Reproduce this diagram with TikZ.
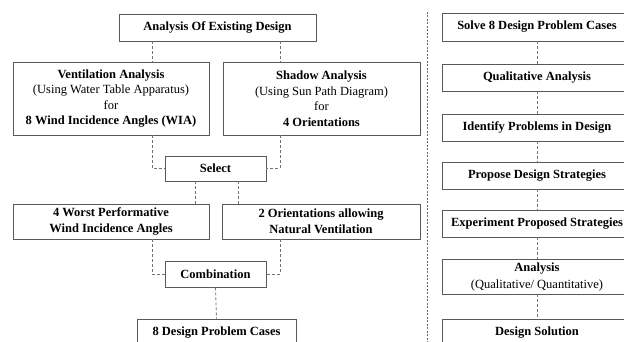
\documentclass[tikz,border=0pt]{standalone}
\usepackage{fontspec}
\setmainfont{Liberation Serif}
\begin{document}
\begin{tikzpicture}[x=1pt,y=-1pt,
  box/.style={draw=black!65, line width=0.9pt, inner sep=0pt, align=center, font=\fontsize{12.5}{15.5}\selectfont},
  conn/.style={draw=black!55, line width=0.8pt, dash pattern=on 3pt off 2pt},
  sep/.style={draw=black!60, line width=0.8pt, dash pattern=on 2pt off 1.5pt}]
\useasboundingbox (0,0) rectangle (624,342);
\clip (0,0) rectangle (624,342);
% left column
\node[box, minimum width=197pt, minimum height=27pt] (top) at (217.5,27.5) {\textbf{Analysis Of Existing Design}};
\node[box, minimum width=196pt, minimum height=73pt] (vent) at (111,98.5) {\textbf{Ventilation Analysis}\\(Using Water Table Apparatus)\\for\\\textbf{8 Wind Incidence Angles (WIA)}};
\node[box, minimum width=197pt, minimum height=73pt] (shad) at (321.5,98.5) {\textbf{Shadow Analysis}\\(Using Sun Path Diagram)\\for\\\textbf{4 Orientations}};
\node[box, minimum width=101pt, minimum height=25pt] (sel) at (215.5,168.5) {\textbf{Select}};
\node[box, minimum width=196pt, minimum height=35pt] (worst) at (111,221.5) {\textbf{4 Worst Performative}\\\textbf{Wind Incidence Angles}};
\node[box, minimum width=198pt, minimum height=35pt] (ori) at (321,221.5) {\textbf{2 Orientations allowing}\\\textbf{Natural Ventilation}};
\node[box, minimum width=101pt, minimum height=26pt] (comb) at (215.5,274) {\textbf{Combination}};
\node[box, minimum width=159pt, minimum height=28pt] (cases) at (216.5,333) {\textbf{8 Design Problem Cases}};
\coordinate (xa) at (152,0);
\coordinate (xb) at (280,0);
\coordinate (xc) at (195,0);
\coordinate (xd) at (238,0);
\draw[conn] (top.south -| xa) -- (vent.north -| xa);
\draw[conn] (top.south -| xb) -- (shad.north -| xb);
\draw[conn] (vent.south -| xa) |- (sel.west);
\draw[conn] (shad.south -| xb) |- (sel.east);
\draw[conn] (sel.south -| xc) -- (worst.north -| xc);
\draw[conn] (sel.south -| xd) -- (ori.north -| xd);
\draw[conn] (worst.south -| xa) |- (comb.west);
\draw[conn] (ori.south -| xb) |- (comb.east);
\draw[conn] (comb.south) -- (cases.north);
% separator
\coordinate (s1) at (427,12);
\coordinate (s2) at (427,342);
\draw[sep] (s1) -- (s2);
% right column
\node[box, minimum width=190pt, minimum height=28pt] (r1) at (537,27) {\textbf{Solve 8 Design Problem Cases}};
\node[box, minimum width=190pt, minimum height=27pt] (r2) at (537,77.5) {\textbf{Qualitative Analysis}};
\node[box, minimum width=190pt, minimum height=27pt] (r3) at (537,127.5) {\textbf{Identify Problems in Design}};
\node[box, minimum width=190pt, minimum height=27pt] (r4) at (537,175.5) {\textbf{Propose Design Strategies}};
\node[box, minimum width=190pt, minimum height=27pt] (r5) at (537,223.5) {\textbf{Experiment Proposed Strategies}};
\node[box, minimum width=190pt, minimum height=35pt, font=\fontsize{12.5}{17}\selectfont] (r6) at (537,276.5) {\textbf{Analysis}\\(Qualitative/ Quantitative)};
\node[box, minimum width=190pt, minimum height=28pt] (r7) at (537,333) {\textbf{Design Solution}};
\draw[conn] (r1) -- (r2);
\draw[conn] (r2) -- (r3);
\draw[conn] (r3) -- (r4);
\draw[conn] (r4) -- (r5);
\draw[conn] (r5) -- (r6);
\draw[conn] (r6) -- (r7);
\end{tikzpicture}
\end{document}
